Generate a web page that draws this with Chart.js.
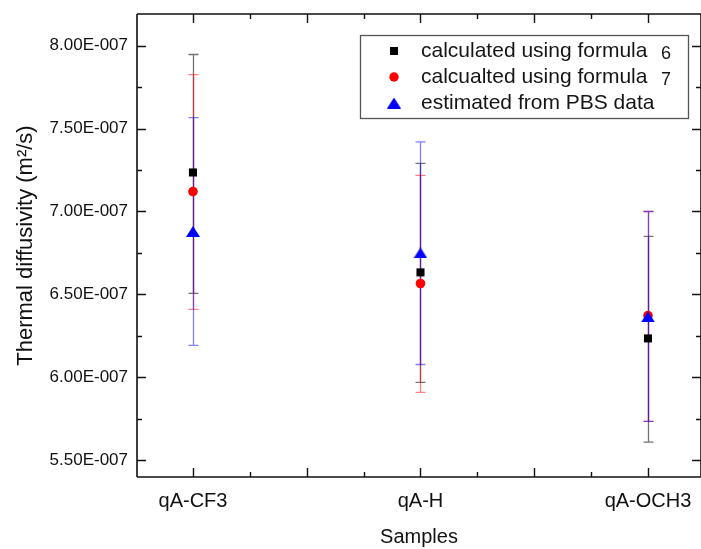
<!DOCTYPE html>
<html lang="en">
<head>
    <meta charset="UTF-8">
    <title>Thermal diffusivity by sample</title>
    <script src="https://cdn.jsdelivr.net/npm/chart.js"></script>
    <style>
        html, body { margin: 0; padding: 0; background: #fff; }
        #wrap { width: 701px; height: 549px; }
    </style>
</head>
<body>
    <div id="wrap"><canvas id="chart" width="701" height="549"></canvas></div>
    <script>
        const categories = ['qA-CF3', 'qA-H', 'qA-OCH3'];

        // calculated using formula 6 (value, upper and lower end of the error bar)
        const formula6 = [7.235e-7, 6.633e-7, 6.235e-7];
        const formula6Hi = [7.946e-7, 7.290e-7, 6.850e-7];
        const formula6Lo = [6.506e-7, 5.970e-7, 5.610e-7];

        // calculated using formula 7
        const formula7 = [7.120e-7, 6.566e-7, 6.373e-7];
        const formula7Hi = [7.825e-7, 7.217e-7, 7.000e-7];
        const formula7Lo = [6.410e-7, 5.910e-7, 5.735e-7];

        // estimated from PBS data
        const pbs = [6.880e-7, 6.750e-7, 6.365e-7];
        const pbsHi = [7.566e-7, 7.420e-7, 7.000e-7];
        const pbsLo = [6.193e-7, 6.078e-7, 5.735e-7];

        const yTicks = [5.5e-7, 6.0e-7, 6.5e-7, 7.0e-7, 7.5e-7, 8.0e-7];
        const legendLabels = ['calculated using formula', 'calcualted using formula', 'estimated from PBS data'];
        const legendNotes = ['6', '7', ''];

        const FONT = "'Liberation Sans', Arial, sans-serif";

        // 7.00E-007 style labels
        function sci(v) {
            const parts = v.toExponential(2).split('e');
            const e = parseInt(parts[1], 10);
            return parts[0] + 'E' + (e < 0 ? '-' : '+') + String(Math.abs(e)).padStart(3, '0');
        }

        // triangle marker centred on its box
        function triangle(w, h, color) {
            const c = document.createElement('canvas');
            c.width = w; c.height = h;
            const g = c.getContext('2d');
            g.fillStyle = color;
            g.beginPath();
            g.moveTo(w / 2, 0);
            g.lineTo(w, h);
            g.lineTo(0, h);
            g.closePath();
            g.fill();
            return c;
        }
        const blueTriangle = triangle(14, 11, '#0000ff');

        const toPoints = vals => vals.map((v, i) => ({ x: i + 1, y: v }));

        const errors = [
            { hi: formula6Hi, lo: formula6Lo, color: 'rgba(0,0,0,0.55)' },
            { hi: formula7Hi, lo: formula7Lo, color: 'rgba(255,0,0,0.5)' },
            { hi: pbsHi, lo: pbsLo, color: 'rgba(0,0,255,0.5)' }
        ];

        const errorBars = {
            id: 'errorBars',
            beforeDatasetsDraw(chart) {
                const { ctx, scales: { x, y } } = chart;
                ctx.save();
                ctx.lineWidth = 1.3;
                errors.forEach(err => {
                    ctx.strokeStyle = err.color;
                    err.hi.forEach((hi, i) => {
                        const px = Math.round(x.getPixelForValue(i + 1)) + 0.5;
                        const top = y.getPixelForValue(hi);
                        const bot = y.getPixelForValue(err.lo[i]);
                        ctx.beginPath();
                        ctx.moveTo(px, top); ctx.lineTo(px, bot);
                        ctx.moveTo(px - 5, top); ctx.lineTo(px + 5, top);
                        ctx.moveTo(px - 5, bot); ctx.lineTo(px + 5, bot);
                        ctx.stroke();
                    });
                });
                ctx.restore();
            }
        };

        // frame with inward ticks on all four sides, plus the legend box
        const frame = {
            id: 'frame',
            afterDraw(chart) {
                const { ctx, chartArea: a, scales: { x, y } } = chart;
                ctx.save();
                ctx.strokeStyle = '#111';
                ctx.lineWidth = 1.6;
                ctx.beginPath();
                ctx.moveTo(a.left, a.top); ctx.lineTo(a.right, a.top);
                ctx.moveTo(a.left, a.bottom); ctx.lineTo(a.right, a.bottom);
                ctx.moveTo(a.left, a.top); ctx.lineTo(a.left, a.bottom);
                ctx.moveTo(a.right, a.top); ctx.lineTo(a.right, a.bottom);
                ctx.stroke();

                ctx.lineWidth = 1.4;
                ctx.beginPath();
                for (let v = 1; v <= x.max + 1e-9; v += 0.25) {
                    const px = Math.round(x.getPixelForValue(v)) + 0.5;
                    const len = Math.abs(v * 2 - Math.round(v * 2)) < 1e-6 ? 9 : 5;
                    ctx.moveTo(px, a.bottom); ctx.lineTo(px, a.bottom - len);
                    ctx.moveTo(px, a.top); ctx.lineTo(px, a.top + len);
                }
                for (let v = 5.5e-7; v <= y.max; v += 0.25e-7) {
                    const py = Math.round(y.getPixelForValue(v)) + 0.5;
                    const major = yTicks.some(t => Math.abs(t - v) < 1e-10);
                    const len = major ? 9 : 5;
                    ctx.moveTo(a.left, py); ctx.lineTo(a.left + len, py);
                    ctx.moveTo(a.right, py); ctx.lineTo(a.right - len, py);
                }
                ctx.stroke();

                // legend
                const bx = 360, by = 35, bw = 328, bh = 83;
                ctx.fillStyle = '#fff';
                ctx.fillRect(bx, by, bw, bh);
                ctx.strokeStyle = '#555';
                ctx.lineWidth = 1.3;
                ctx.strokeRect(bx + 0.5, by + 0.5, bw, bh);
                const rows = [51, 77, 103];
                const mx = 394;
                ctx.fillStyle = '#000';
                ctx.fillRect(mx - 4, rows[0] - 4, 8, 8);
                ctx.fillStyle = '#ff0000';
                ctx.beginPath(); ctx.arc(mx, rows[1], 4.7, 0, Math.PI * 2); ctx.fill();
                ctx.drawImage(blueTriangle, mx - 7, rows[2] - 5.5);
                ctx.fillStyle = '#151515';
                ctx.textBaseline = 'middle';
                ctx.textAlign = 'left';
                ctx.font = '21px ' + FONT;
                legendLabels.forEach((t, i) => ctx.fillText(t, 421, rows[i]));
                ctx.font = '18px ' + FONT;
                legendNotes.forEach((t, i) => ctx.fillText(t, 661, rows[i] + 3));
                ctx.restore();
            }
        };

        new Chart(document.getElementById('chart'), {
            type: 'scatter',
            data: {
                datasets: [
                    {
                        label: legendLabels[0] + ' 6',
                        data: toPoints(formula6),
                        pointStyle: 'rect',
                        pointRadius: 5.7,
                        backgroundColor: '#000',
                        borderColor: '#000',
                        borderWidth: 0,
                        order: 3
                    },
                    {
                        label: legendLabels[1] + ' 7',
                        data: toPoints(formula7),
                        pointStyle: 'circle',
                        pointRadius: 4.8,
                        backgroundColor: '#ff0000',
                        borderColor: '#ff0000',
                        borderWidth: 0,
                        order: 2
                    },
                    {
                        label: legendLabels[2],
                        data: toPoints(pbs),
                        pointStyle: blueTriangle,
                        backgroundColor: '#0000ff',
                        borderColor: '#0000ff',
                        order: 1
                    }
                ]
            },
            options: {
                responsive: false,
                animation: false,
                devicePixelRatio: 1,
                layout: { autoPadding: false, padding: { top: 14, right: 0, bottom: 0, left: 0 } },
                plugins: {
                    legend: { display: false },
                    tooltip: { enabled: false }
                },
                scales: {
                    x: {
                        type: 'linear',
                        min: 0.754,
                        max: 3.233,
                        afterBuildTicks: s => { s.ticks = categories.map((c, i) => ({ value: i + 1 })); },
                        afterFit: s => { s.height = 72; s.paddingLeft = 0; s.paddingRight = 0; },
                        grid: { display: false, drawTicks: false },
                        border: { display: false },
                        ticks: {
                            padding: 12,
                            color: '#111',
                            font: { family: FONT, size: 20 },
                            callback: v => categories[v - 1]
                        },
                        title: {
                            display: true,
                            text: 'Samples',
                            color: '#111',
                            font: { family: FONT, size: 20 },
                            padding: { top: 0, bottom: 0 }
                        }
                    },
                    y: {
                        min: 5.40e-7,
                        max: 8.19e-7,
                        afterBuildTicks: s => { s.ticks = yTicks.map(v => ({ value: v })); },
                        afterFit: s => { s.width = 137; s.paddingTop = 0; s.paddingBottom = 0; },
                        grid: { display: false, drawTicks: false },
                        border: { display: false },
                        ticks: {
                            padding: 9,
                            color: '#111',
                            font: { family: FONT, size: 17 },
                            callback: v => sci(v)
                        },
                        title: {
                            display: true,
                            text: 'Thermal diffusivity (m\u00b2/s)',
                            color: '#111',
                            font: { family: FONT, size: 22 },
                            padding: { top: 13, bottom: 0 }
                        }
                    }
                }
            },
            plugins: [errorBars, frame]
        });
    </script>
</body>
</html>
